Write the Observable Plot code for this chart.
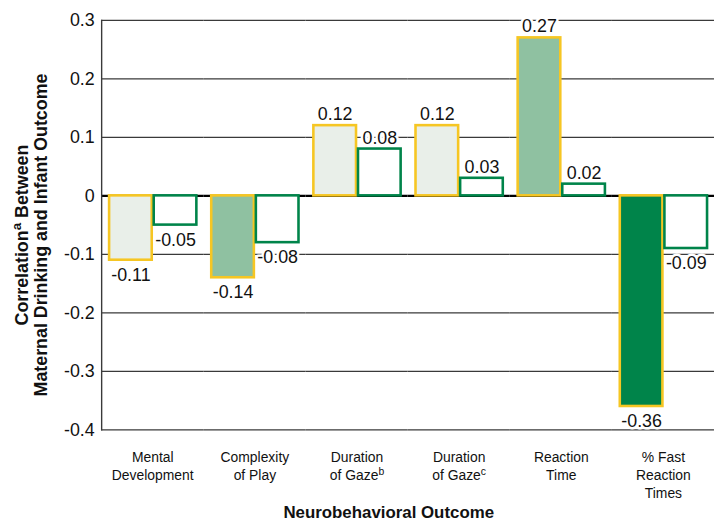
<!DOCTYPE html>
<html><head><meta charset="utf-8">
<script src="https://cdn.jsdelivr.net/npm/d3@7"></script>
<script src="https://cdn.jsdelivr.net/npm/@observablehq/plot@0.6"></script>
<style>html,body{margin:0;padding:0;background:#fff;overflow:hidden;} #chart svg{display:block;}</style>
</head><body><div id="chart"></div>
<script>
// ---- data ----
const outcomes = ["Mental Development", "Complexity of Play", "Duration of Gaze (b)", "Duration of Gaze (c)", "Reaction Time", "% Fast Reaction Times"];
const tickLabels = ["Mental\nDevelopment", "Complexity\nof Play", "Duration\nof Gaze^b", "Duration\nof Gaze^c", "Reaction\nTime", "% Fast\nReaction\nTimes"];
const seriesNames = ["Group 1", "Group 2"];
const series1 = [-0.11, -0.14, 0.12, 0.12, 0.27, -0.36];
const series2 = [-0.05, -0.08, 0.08, 0.03, 0.02, -0.09];
const series1Significance = ["n.s.", "p < .05", "n.s.", "n.s.", "p < .05", "p < .01"];
const significanceLevels = ["n.s.", "p < .05", "p < .01"];
const yTicks = [0.3, 0.2, 0.1, 0, -0.1, -0.2, -0.3, -0.4];
const yTitle = ["Correlation^a Between", "Maternal Drinking and Infant Outcome"];
const xTitle = "Neurobehavioral Outcome";

const rows1 = outcomes.map((o, i) => ({outcome: o, series: seriesNames[0], value: series1[i], sig: series1Significance[i]}));
const rows2 = outcomes.map((o, i) => ({outcome: o, series: seriesNames[1], value: series2[i]}));
const rows = rows1.concat(rows2);

const FONT = "'Liberation Sans', Arial, Helvetica, sans-serif";

const chart = Plot.plot({
  width: 720, height: 527,
  marginLeft: 101, marginRight: 0, marginTop: 20, marginBottom: 94,
  style: {fontFamily: FONT, background: "white", color: "#111"},
  fx: {domain: outcomes, padding: 0, label: null},
  x: {domain: seriesNames, paddingInner: 0.055, paddingOuter: 0.161, axis: null},
  y: {domain: [-0.4, 0.3], label: null},
  color: {domain: significanceLevels, range: ["#e9efe9", "#8fc1a1", "#00844a"]},
  marks: [
    Plot.ruleY(yTicks.filter(d => d !== 0), {stroke: "#3a3a3a", strokeWidth: 1.4}),
    Plot.ruleY([0], {stroke: "#000", strokeWidth: 2.2}),
    Plot.frame({anchor: "left", facetAnchor: "left", stroke: "#3a3a3a", strokeWidth: 1.4}),
    Plot.barY(rows1, {fx: "outcome", x: "series", y: "value", fill: "sig", stroke: "#f6c623", strokeWidth: 2.6}),
    Plot.barY(rows2, {fx: "outcome", x: "series", y: "value", fill: "white", stroke: "#00844a", strokeWidth: 2.6}),
    Plot.text(rows.filter(d => d.value >= 0), {fx: "outcome", x: "series", y: "value", text: d => d.value.toFixed(2), lineAnchor: "bottom", dy: -5.5, fontSize: 18, fill: "#111", stroke: "white", strokeWidth: 5}),
    Plot.text(rows.filter(d => d.value < 0), {fx: "outcome", x: "series", y: "value", text: d => d.value.toFixed(2), lineAnchor: "top", dy: 8, fontSize: 18, fill: "#111", stroke: "white", strokeWidth: 5}),
    Plot.axisY({ticks: yTicks, tickFormat: d => String(d), tickSize: 0, tickPadding: 7, fontSize: 18, label: null}),
    Plot.axisFx({anchor: "bottom", tickSize: 0, tickPadding: 20, fontSize: 14, lineHeight: 18 / 14, label: null, tickFormat: d => tickLabels[outcomes.indexOf(d)]})
  ]
});
document.getElementById("chart").appendChild(chart);

// superscripts: "^x" marks a single superscript character
function addSup(el, str) {
  const k = str.indexOf("^");
  if (k < 0) { el.textContent = str; return; }
  const base = str.slice(0, k), sup = str.slice(k + 1, k + 2), rest = str.slice(k + 2);
  el.textContent = base;
  d3.select(el).append("tspan").attr("baseline-shift", "super").attr("font-size", "0.75em").text(sup);
  if (rest) d3.select(el).append("tspan").text(rest);
}
const svgEl = chart.tagName.toLowerCase() === "svg" ? chart : chart.querySelector("svg");
svgEl.querySelectorAll("text, tspan").forEach(el => {
  if (el.childNodes.length === 1 && el.firstChild.nodeType === 3 && el.textContent.includes("^")) addSup(el, el.textContent);
});

const svg = d3.select(svgEl);
const yt = svg.append("g").attr("transform", "translate(0,237) rotate(-90)")
  .attr("font-family", FONT).attr("font-weight", "bold").attr("font-size", 18).attr("fill", "#111").attr("text-anchor", "middle");
yTitle.forEach((line, i) => {
  const t = yt.append("text").attr("x", 0).attr("y", 28 + i * 19);
  addSup(t.node(), line);
});
svg.append("text").attr("x", 392).attr("y", 522).attr("text-anchor", "middle")
  .attr("font-family", FONT).attr("font-weight", "bold").attr("font-size", 17).attr("fill", "#111").text(xTitle);
</script>
</body></html>
